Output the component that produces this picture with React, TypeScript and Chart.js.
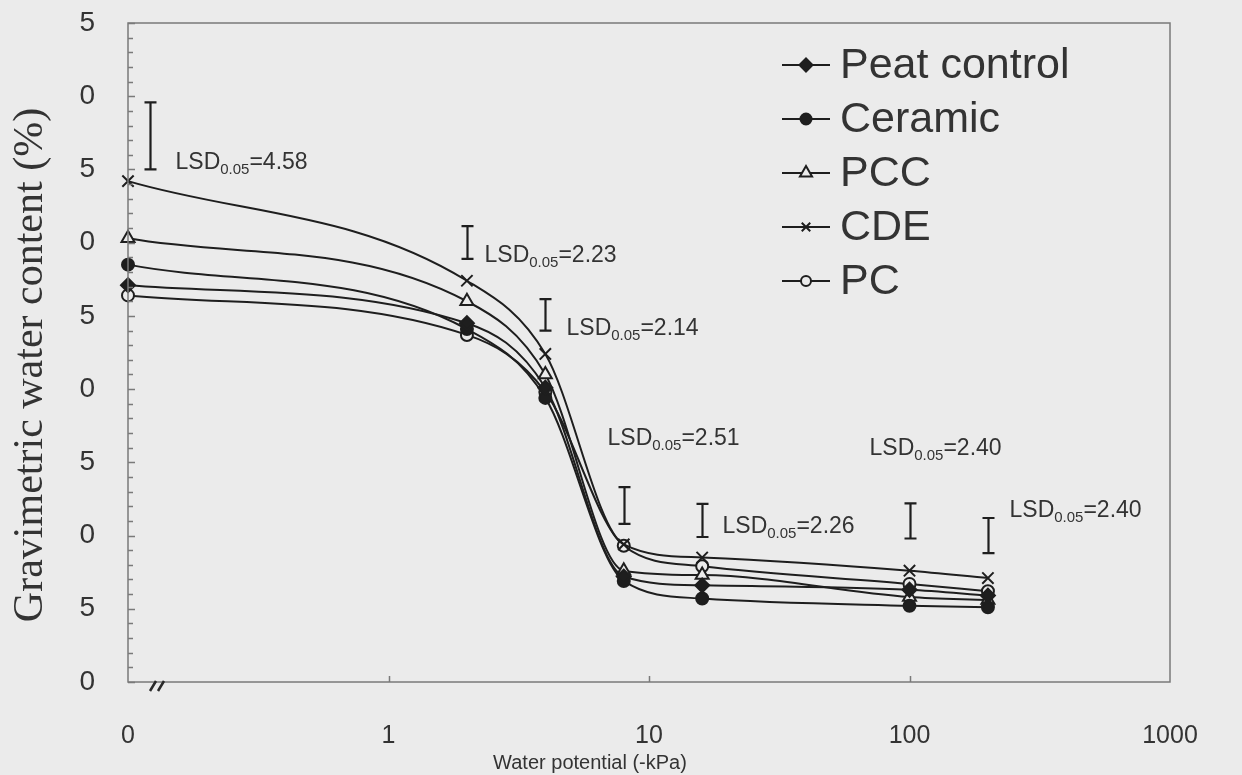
import React, { useEffect, useRef } from 'react';
import { Chart, registerables } from 'chart.js';

Chart.register(...registerables);

// ---------- data ----------
const pressures = [0, 2, 4, 8, 16, 100, 200]; // water potential, -kPa
const ZERO_AT = 0.1; // where "0" sits on the broken log axis

const peatControl = [27.1, 24.5, 20.1, 7.2, 6.6, 6.3, 5.9];
const ceramic = [28.5, 24.1, 19.4, 6.9, 5.7, 5.2, 5.1];
const pcc = [30.3, 26.0, 21.0, 7.6, 7.3, 5.8, 5.6];
const cde = [34.2, 27.4, 22.4, 9.4, 8.5, 7.6, 7.1];
const pc = [26.4, 23.7, 19.8, 9.3, 7.9, 6.7, 6.2];

const seriesNames = ['Peat control', 'Ceramic', 'PCC', 'CDE', 'PC'];
const seriesValues = [peatControl, ceramic, pcc, cde, pc];

const lsdValues = [4.58, 2.23, 2.14, 2.51, 2.26, 2.40, 2.40];
const lsdLower = [35.0, 28.9, 24.0, 10.8, 9.9, 9.8, 8.8];

const xTickValues = [0.1, 1, 10, 100, 1000];
const xTickLabels = ['0', '1', '10', '100', '1000'];
const yTickLabels = ['0', '5', '0', '5', '0', '5', '0', '5', '0', '5'];

const xTitle = 'Water potential (-kPa)';
const yTitle = 'Gravimetric water content (%)';

// ---------- styles ----------
const BG = '#ebebeb';
const INK = '#1e1e1e';
const TXT = '#333333';
const FRAME = '#7a7a7a';
const SANS = '"Liberation Sans", Arial, Helvetica, sans-serif';
const SERIF = '"Liberation Serif", "Times New Roman", serif';

const seriesStyles = [
  { shape: 'rectRot', r: 7, filled: true, legendR: 6.5 },
  { shape: 'circle', r: 6, filled: true, legendR: 5.5 },
  { shape: 'triangle', r: 7.5, filled: false, legendR: 7 },
  { shape: 'crossRot', r: 8, filled: false, legendR: 6 },
  { shape: 'circle', r: 6, filled: false, legendR: 5 },
];

// LSD bar x pixel nudges and label offsets (px, relative to bar x / bar bottom)
const lsdBarDx = [22, 0, 0, 0, 0, 0, 0];
const lsdLabelOffset = [
  [25, 0], [17, 3], [21, 4], [-17, -79], [20, -4], [-41, -83], [21, -36],
];

function drawMarker(ctx: CanvasRenderingContext2D, shape: string, x: number, y: number, r: number, filled: boolean) {
  ctx.save();
  ctx.lineWidth = 2;
  ctx.strokeStyle = INK;
  ctx.fillStyle = filled ? INK : BG;
  ctx.beginPath();
  if (shape === 'circle') {
    ctx.arc(x, y, r, 0, Math.PI * 2);
    ctx.fill();
    ctx.stroke();
  } else if (shape === 'rectRot') {
    ctx.moveTo(x - r, y);
    ctx.lineTo(x, y - r);
    ctx.lineTo(x + r, y);
    ctx.lineTo(x, y + r);
    ctx.closePath();
    ctx.fill();
    ctx.stroke();
  } else if (shape === 'triangle') {
    const s = r * Math.sin(Math.PI / 3);
    ctx.moveTo(x, y - r);
    ctx.lineTo(x + s, y + r / 2);
    ctx.lineTo(x - s, y + r / 2);
    ctx.closePath();
    ctx.fill();
    ctx.stroke();
  } else if (shape === 'crossRot') {
    const o = r * Math.SQRT1_2;
    ctx.moveTo(x - o, y - o);
    ctx.lineTo(x + o, y + o);
    ctx.moveTo(x + o, y - o);
    ctx.lineTo(x - o, y + o);
    ctx.stroke();
  }
  ctx.restore();
}

function drawLsdLabel(ctx: CanvasRenderingContext2D, x: number, baseline: number, value: number) {
  ctx.save();
  ctx.fillStyle = TXT;
  ctx.textAlign = 'left';
  ctx.textBaseline = 'alphabetic';
  ctx.font = `23px ${SANS}`;
  ctx.fillText('LSD', x, baseline);
  let cx = x + ctx.measureText('LSD').width;
  ctx.font = `15px ${SANS}`;
  ctx.fillText('0.05', cx, baseline + 5);
  cx += ctx.measureText('0.05').width;
  ctx.font = `23px ${SANS}`;
  ctx.fillText('=' + value.toFixed(2), cx, baseline);
  ctx.restore();
}

const decorPlugin = {
  id: 'decor',
  afterDraw(chart: any) {
    const { ctx, chartArea: a, scales } = chart;
    const xs = scales.x;
    const ys = scales.y;
    ctx.save();

    // frame
    ctx.strokeStyle = FRAME;
    ctx.lineWidth = 1.5;
    ctx.strokeRect(a.left, a.top, a.right - a.left, a.bottom - a.top);

    // inner y ticks (every 1, longer every 5)
    ctx.beginPath();
    for (let v = 0; v <= 45; v++) {
      const py = Math.round(ys.getPixelForValue(v)) + 0.5;
      const len = v % 5 === 0 ? 7 : 5;
      ctx.moveTo(a.left, py);
      ctx.lineTo(a.left + len, py);
    }
    // inner x ticks
    [1, 10, 100].forEach((v) => {
      const px = Math.round(xs.getPixelForValue(v)) + 0.5;
      ctx.moveTo(px, a.bottom);
      ctx.lineTo(px, a.bottom - 6);
    });
    ctx.stroke();

    // axis break mark
    ctx.strokeStyle = '#2a2a2a';
    ctx.lineWidth = 2.5;
    ctx.beginPath();
    const bx = a.left + 22;
    ctx.moveTo(bx, a.bottom + 9);
    ctx.lineTo(bx + 6, a.bottom - 1);
    ctx.moveTo(bx + 8, a.bottom + 9);
    ctx.lineTo(bx + 14, a.bottom - 1);
    ctx.stroke();

    // LSD bars
    ctx.strokeStyle = INK;
    ctx.lineWidth = 2.2;
    lsdValues.forEach((val, i) => {
      const p = pressures[i] === 0 ? ZERO_AT : pressures[i];
      const px = Math.round(xs.getPixelForValue(p) + lsdBarDx[i]) + 0.5;
      const yb = ys.getPixelForValue(lsdLower[i]);
      const yt = ys.getPixelForValue(lsdLower[i] + val);
      ctx.beginPath();
      ctx.moveTo(px, yb);
      ctx.lineTo(px, yt);
      ctx.moveTo(px - 6, yb);
      ctx.lineTo(px + 6, yb);
      ctx.moveTo(px - 6, yt);
      ctx.lineTo(px + 6, yt);
      ctx.stroke();
      const [dx, dy] = lsdLabelOffset[i];
      drawLsdLabel(ctx, px + dx, yb + dy, val);
    });

    // legend
    seriesNames.forEach((name, i) => {
      const cy = a.top + 42 + i * 54;
      const lx0 = a.right - 388;
      const lx1 = a.right - 340;
      ctx.strokeStyle = INK;
      ctx.lineWidth = 2;
      ctx.beginPath();
      ctx.moveTo(lx0, cy);
      ctx.lineTo(lx1, cy);
      ctx.stroke();
      const st = seriesStyles[i];
      drawMarker(ctx, st.shape, (lx0 + lx1) / 2, cy, st.legendR, st.filled);
      ctx.fillStyle = TXT;
      ctx.font = `43px ${SANS}`;
      ctx.textAlign = 'left';
      ctx.textBaseline = 'middle';
      ctx.fillText(name, a.right - 330, cy + 1);
    });

    // axis titles
    ctx.fillStyle = TXT;
    ctx.font = `20px ${SANS}`;
    ctx.textAlign = 'center';
    ctx.textBaseline = 'middle';
    ctx.fillText(xTitle, 590, 763);

    ctx.save();
    ctx.translate(42, 365);
    ctx.rotate(-Math.PI / 2);
    ctx.font = `42px ${SERIF}`;
    ctx.textAlign = 'center';
    ctx.textBaseline = 'alphabetic';
    ctx.fillText(yTitle, 0, 0);
    ctx.restore();

    ctx.restore();
  },
};

export default function App() {
  const ref = useRef<HTMLCanvasElement>(null);

  useEffect(() => {
    const canvas = ref.current;
    if (!canvas) return;
    const datasets = seriesNames.map((name, i) => {
      const st = seriesStyles[i];
      return {
        label: name,
        data: pressures.map((p, j) => ({ x: p === 0 ? ZERO_AT : p, y: seriesValues[i][j] })),
        borderColor: INK,
        borderWidth: 2,
        backgroundColor: st.filled ? INK : BG,
        pointStyle: st.shape,
        pointRadius: st.r,
        pointBorderWidth: 2,
        pointBorderColor: INK,
        pointBackgroundColor: st.filled ? INK : BG,
        cubicInterpolationMode: 'monotone',
        fill: false,
        clip: false,
      };
    });

    const chart = new Chart(canvas, {
      type: 'line',
      data: { datasets } as any,
      plugins: [decorPlugin],
      options: {
        animation: false,
        responsive: false,
        devicePixelRatio: 1,
        layout: { padding: { top: 23, right: 72, left: 0, bottom: 0 } },
        plugins: {
          legend: { display: false },
          tooltip: { enabled: false },
          title: { display: false },
        },
        scales: {
          x: {
            type: 'logarithmic',
            min: 0.1,
            max: 1000,
            grid: { display: false },
            border: { display: false },
            afterBuildTicks: (scale: any) => {
              scale.ticks = xTickValues.map((v) => ({ value: v }));
            },
            afterFit: (scale: any) => {
              scale.height = 93;
              scale.paddingLeft = 0;
              scale.paddingRight = 0;
            },
            ticks: {
              autoSkip: false,
              maxRotation: 0,
              padding: 31,
              color: TXT,
              font: { family: SANS, size: 25 },
              callback: (_v: any, i: number) => xTickLabels[i],
            },
          },
          y: {
            type: 'linear',
            min: 0,
            max: 45,
            grid: { display: false },
            border: { display: false },
            afterFit: (scale: any) => {
              scale.width = 128;
              scale.paddingTop = 0;
              scale.paddingBottom = 0;
            },
            ticks: {
              stepSize: 5,
              padding: 25,
              color: TXT,
              font: { family: SANS, size: 28 },
              callback: (_v: any, i: number) => yTickLabels[i],
            },
          },
        },
      } as any,
    });
    return () => chart.destroy();
  }, []);

  return (
    <div style={{ position: 'fixed', left: 0, top: 0, width: 1242, height: 775, background: BG }}>
      <canvas ref={ref} width={1242} height={775} style={{ display: 'block', width: 1242, height: 775 }} />
    </div>
  );
}
